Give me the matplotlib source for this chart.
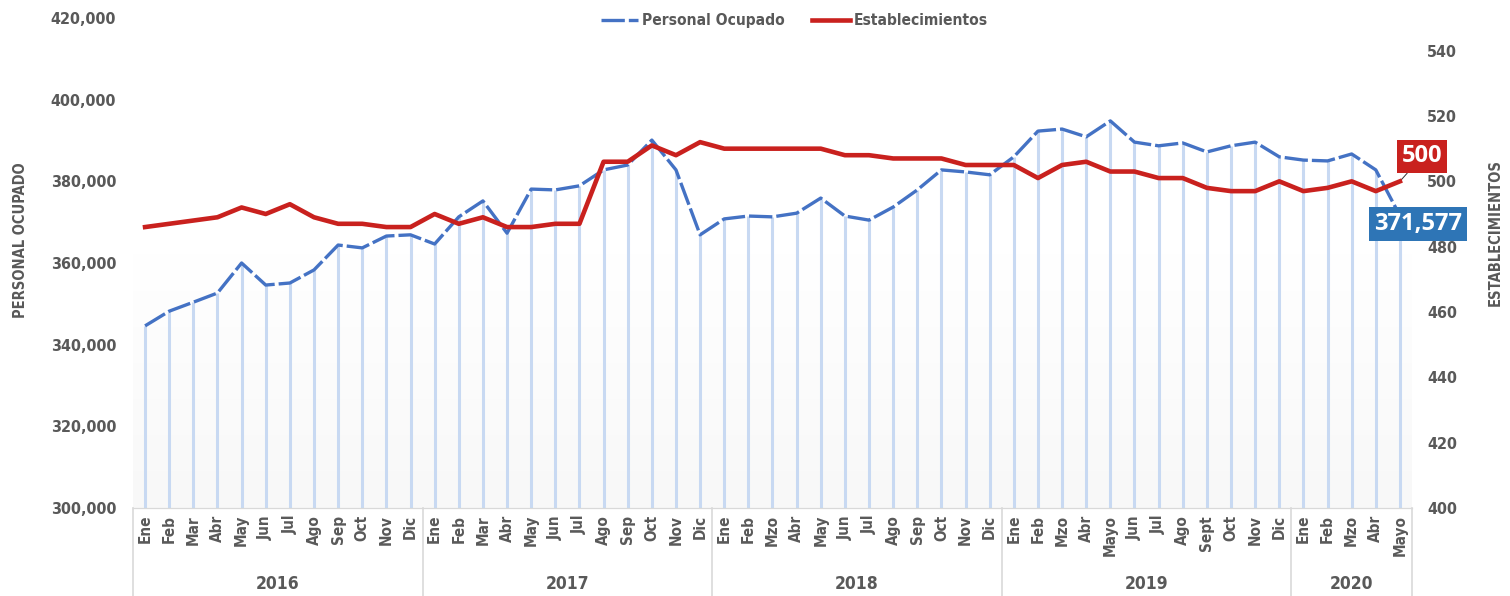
import matplotlib
matplotlib.use("Agg")
import matplotlib.pyplot as plt
import matplotlib.transforms as mtransforms
import numpy as np

plt.rcParams["font.family"] = ["DejaVu Sans"]
plt.rcParams["font.stretch"] = "condensed"

years = ["2016", "2017", "2018", "2019", "2020"]
months_2016 = ["Ene", "Feb", "Mar", "Abr", "May", "Jun", "Jul", "Ago", "Sep", "Oct", "Nov", "Dic"]
months_2017 = ["Ene", "Feb", "Mar", "Abr", "May", "Jun", "Jul", "Ago", "Sep", "Oct", "Nov", "Dic"]
months_2018 = ["Ene", "Feb", "Mzo", "Abr", "May", "Jun", "Jul", "Ago", "Sep", "Oct", "Nov", "Dic"]
months_2019 = ["Ene", "Feb", "Mzo", "Abr", "Mayo", "Jun", "Jul", "Ago", "Sept", "Oct", "Nov", "Dic"]
months_2020 = ["Ene", "Feb", "Mzo", "Abr", "Mayo"]

personal = [
    344600, 348200, 350400, 352650, 360000, 354600, 355100, 358300, 364400, 363700, 366600, 366900,
    364650, 371300, 375200, 367300, 378100, 377900, 378900, 382800, 384000, 390100, 382800, 366900,
    370800, 371500, 371300, 372200, 375900, 371500, 370500, 373700, 377900, 382800, 382300, 381600,
    386000, 392300, 392800, 390900, 394800, 389600, 388700, 389400, 387200, 388700, 389600, 386000,
    385200, 385000, 386700, 382800, 371577,
]
establecimientos = [
    486, 487, 488, 489, 492, 490, 493, 489, 487, 487, 486, 486,
    490, 487, 489, 486, 486, 487, 487, 506, 506, 511, 508, 512,
    510, 510, 510, 510, 510, 508, 508, 507, 507, 507, 505, 505,
    505, 501, 505, 506, 503, 503, 501, 501, 498, 497, 497, 500,
    497, 498, 500, 497, 500,
]

month_groups = [months_2016, months_2017, months_2018, months_2019, months_2020]
month_labels = [m for g in month_groups for m in g]
x = np.arange(len(month_labels))

BLUE = "#4472c4"
RED = "#c9211e"
GRAY = "#595959"

fig = plt.figure(figsize=(15.1, 5.96), dpi=100)
ax = fig.add_axes([133 / 1510, 1 - 508 / 596, 1279 / 1510, 490 / 596])
ax2 = ax.twinx()

# faint background gradient
grad = np.linspace(0, 1, 256).reshape(-1, 1)
ax.imshow(grad, extent=[-0.5, len(x) - 0.5, 300000, 362000], aspect="auto",
          cmap=matplotlib.colors.LinearSegmentedColormap.from_list("g", ["#f8f8f8", "#ffffff"]),
          origin="lower", zorder=0)

ax.vlines(x, 300000, personal, color="#c8d9f2", lw=2.2, zorder=1)
ax.plot(x, personal, color=BLUE, lw=2.4, dashes=(7, 1.2), zorder=3, label="Personal Ocupado")
ax2.plot(x, establecimientos, color=RED, lw=3.3, zorder=4, label="Establecimientos")

ax.set_xlim(-0.5, len(x) - 0.5)
ax.set_ylim(300000, 420000)
ax.set_yticks(np.arange(300000, 420001, 20000))
ax.yaxis.set_major_formatter(matplotlib.ticker.FuncFormatter(lambda v, p: f"{int(v):,}"))
ax2.set_ylim(400, 550)
ax2.set_yticks(np.arange(400, 541, 20))

ax.set_xticks(x)
ax.set_xticklabels(month_labels, rotation=90, fontsize=11, fontweight="bold", color=GRAY)
ax.tick_params(axis="x", length=0, pad=5)
ax.tick_params(axis="y", length=0, pad=12, labelsize=11.5, labelcolor=GRAY)
ax2.tick_params(axis="y", length=0, pad=11, labelsize=11.5, labelcolor=GRAY)
for lab in ax.get_yticklabels() + ax2.get_yticklabels():
    lab.set_fontweight("bold")

for a in (ax, ax2):
    for s in ("top", "left", "right"):
        a.spines[s].set_visible(False)
    a.spines["bottom"].set_color("#d9d9d9")

ax.set_ylabel("PERSONAL OCUPADO", fontsize=10.5, fontweight="bold", color=GRAY)
ax.yaxis.set_label_coords(-0.082, 0.547)
ax2.set_ylabel("ESTABLECIMIENTOS", fontsize=10.5, fontweight="bold", color=GRAY, rotation=90)
ax2.yaxis.set_label_coords(1.059, 0.563)

# year groups under the month labels
trans = mtransforms.blended_transform_factory(ax.transData, ax.transAxes)
start = 0
bounds = [-0.5]
for yr, g in zip(years, month_groups):
    end = start + len(g)
    ax.text((start + end - 1) / 2, -0.155, yr, transform=trans, ha="center", va="center",
            fontsize=12.5, fontweight="bold", color=GRAY)
    bounds.append(end - 0.5)
    start = end
for b in bounds:
    ax.plot([b, b], [0, -0.185], transform=trans, color="#d9d9d9", lw=1.2, clip_on=False)

# end labels
ax2.annotate(f"{establecimientos[-1]}", xy=(x[-1], establecimientos[-1]), xytext=(16, 18),
             textcoords="offset points", ha="center", va="center", fontsize=17, fontweight="bold",
             color="white", family=["Open Sans", "DejaVu Sans"], fontstretch="normal",
             bbox=dict(boxstyle="square,pad=0.2", fc=RED, ec="none"),
             arrowprops=dict(arrowstyle="-", color="#333333", lw=0.7, shrinkA=0, shrinkB=0))
ax.annotate(f"{personal[-1]:,}", xy=(x[-1], personal[-1]), xytext=(13, -6),
            textcoords="offset points", ha="center", va="center", fontsize=17, fontweight="bold",
            color="white", family=["Open Sans", "DejaVu Sans"], fontstretch="normal", zorder=6,
            bbox=dict(boxstyle="square,pad=0.2", fc="#2e75b6", ec="none"))

h1, l1 = ax.get_legend_handles_labels()
h2, l2 = ax2.get_legend_handles_labels()
leg = fig.legend(h1 + h2, l1 + l2, loc="center", bbox_to_anchor=(0.526, 0.965), ncol=2,
                 frameon=False, fontsize=11.2, handlelength=2.4, columnspacing=1.75, handletextpad=0.26)
for t in leg.get_texts():
    t.set_fontweight("bold")
    t.set_color(GRAY)

fig.savefig("out.png", dpi=100)
